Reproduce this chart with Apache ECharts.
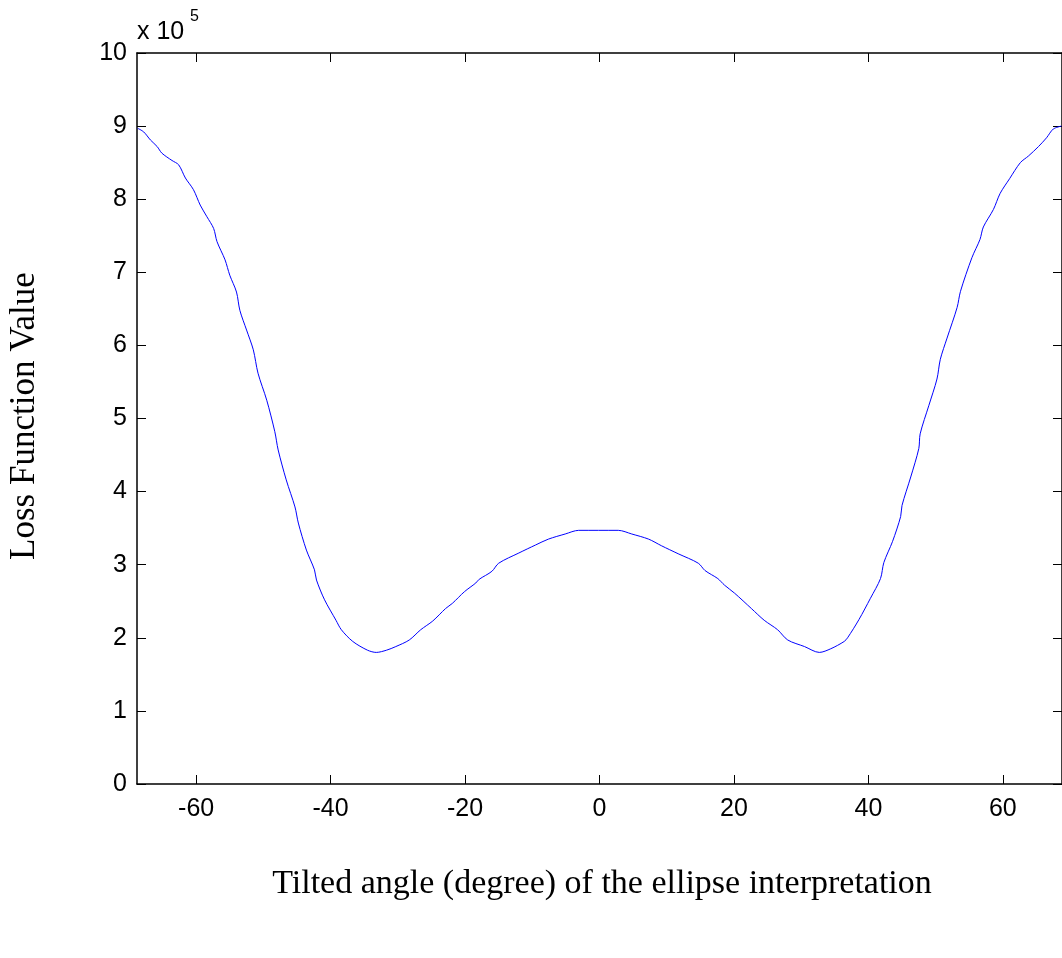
<!DOCTYPE html>
<html>
<head>
<meta charset="utf-8">
<script src="https://cdn.jsdelivr.net/npm/echarts@6/dist/echarts.min.js"></script>
<style>
html,body{margin:0;padding:0;background:#fff;}
#c{width:1062px;height:958px;}
</style>
</head>
<body>
<div id="c"></div>
<script>
// Tilted angle (degree)
const angles = [-68.7,-67.8,-66.8,-65.8,-65.1,-63.6,-62.6,-61.6,-60.4,-59.4,-58.4,-57.4,-56.9,-55.7,-55.0,-54.0,-53.5,-52.5,-51.5,-50.8,-49.5,-48.3,-47.8,-46.6,-45.3,-44.8,-43.6,-42.4,-42.1,-40.9,-39.2,-38.4,-36.7,-34.5,-33.2,-31.7,-30.3,-28.3,-26.6,-24.8,-22.9,-21.9,-20.1,-18.4,-17.9,-16.0,-15.0,-12.0,-9.5,-7.6,-5.1,-3.1,2.8,4.8,7.3,9.2,11.7,14.7,15.7,17.6,18.6,20.1,22.6,24.5,26.5,28.0,30.5,32.7,34.4,36.4,36.9,38.6,40.3,41.8,42.3,43.6,44.8,45.0,46.3,47.5,47.7,49.0,50.2,50.7,51.7,53.2,53.7,55.4,56.6,57.1,58.6,59.6,61.0,62.6,63.8,65.3,66.5,67.5,68.7];
// Loss function value (x 10^5)
const loss = [8.97,8.92,8.81,8.72,8.63,8.53,8.47,8.29,8.13,7.92,7.76,7.60,7.42,7.17,6.96,6.73,6.48,6.21,5.94,5.62,5.25,4.82,4.57,4.16,3.79,3.57,3.20,2.93,2.79,2.52,2.24,2.11,1.95,1.83,1.80,1.83,1.88,1.97,2.11,2.23,2.40,2.47,2.63,2.75,2.80,2.91,3.02,3.16,3.27,3.35,3.42,3.47,3.47,3.42,3.35,3.26,3.15,3.02,2.92,2.81,2.72,2.61,2.40,2.24,2.11,1.97,1.88,1.80,1.85,1.95,2.00,2.25,2.54,2.81,3.03,3.32,3.66,3.81,4.20,4.59,4.79,5.18,5.54,5.81,6.10,6.52,6.74,7.20,7.45,7.62,7.86,8.08,8.28,8.50,8.59,8.72,8.84,8.96,9.00];
const xTicks = [-60,-40,-20,0,20,40,60];
const yTicks = [0,1,2,3,4,5,6,7,8,9,10];
const xTitle = 'Tilted angle (degree) of the ellipse interpretation';
const yTitle = 'Loss Function Value';
const scaleText = 'x 10';
const scaleExp = '5';

const chart = echarts.init(document.getElementById('c'), null, {renderer:'canvas'});
const tickStyle = {show:true, inside:true, length:9, lineStyle:{color:'#000', width:1}};
const axisLine = {show:true, onZero:false, lineStyle:{color:'#000', width:1.5}};
const labelFont = {fontFamily:'Liberation Sans, Arial, sans-serif', fontSize:25, color:'#000'};
const serif = 'Liberation Serif, Times New Roman, serif';

chart.setOption({
  animation:false,
  backgroundColor:'#fff',
  grid:{left:137, top:53, width:929, height:731, containLabel:false},
  xAxis:[
    {type:'value', position:'bottom', min:-68.8, max:68.8,
     axisLine:axisLine,
     axisTick:Object.assign({customValues:xTicks}, tickStyle),
     axisLabel:Object.assign({customValues:xTicks, margin:13}, labelFont),
     splitLine:{show:false}},
    {type:'value', position:'top', min:-68.8, max:68.8,
     axisLine:axisLine,
     axisTick:Object.assign({customValues:xTicks}, tickStyle),
     axisLabel:{show:false},
     splitLine:{show:false}}
  ],
  yAxis:[
    {type:'value', position:'left', min:0, max:10, interval:1,
     axisLine:axisLine, axisTick:tickStyle,
     axisLabel:Object.assign({margin:10, customValues:yTicks}, labelFont),
     splitLine:{show:false}},
    {type:'value', position:'right', min:0, max:10, interval:1,
     axisLine:axisLine, axisTick:tickStyle,
     axisLabel:{show:false},
     splitLine:{show:false}}
  ],
  series:[{
    type:'line',
    data:angles.map((a,i)=>[a, loss[i]]),
    showSymbol:false, symbol:'none',
    lineStyle:{color:'#0000ff', width:1},
    itemStyle:{color:'#0000ff'},
    smooth:0.3,
    clip:true
  }],
  graphic:[
    {type:'text', left:137, top:20, style:{text:scaleText, font:'25px Liberation Sans, Arial, sans-serif', fill:'#000'}},
    {type:'text', left:190, top:9, style:{text:scaleExp, font:'16px Liberation Sans, Arial, sans-serif', fill:'#000'}},
    {type:'text', x:602, y:884, style:{text:xTitle, font:'34px '+serif, fill:'#000', align:'center', verticalAlign:'middle'}},
    {type:'text', x:25, y:416, rotation:Math.PI/2, style:{text:yTitle, font:'35px '+serif, fill:'#000', align:'center', verticalAlign:'middle'}}
  ]
});
</script>
</body>
</html>
